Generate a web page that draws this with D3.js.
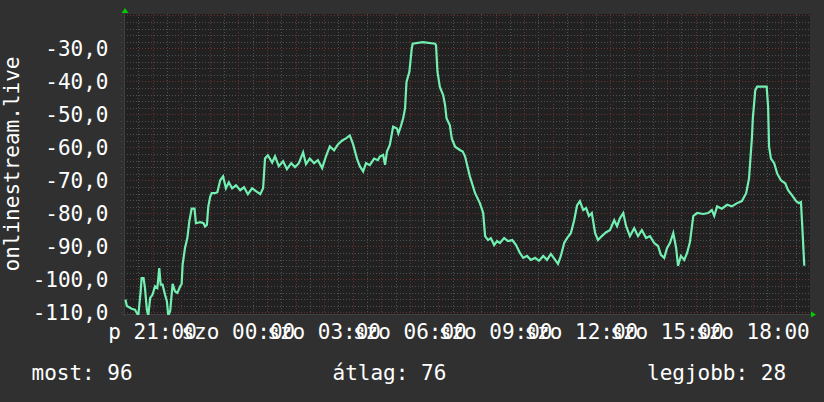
<!DOCTYPE html>
<html><head><meta charset="utf-8">
<script src="https://cdn.jsdelivr.net/npm/d3@7"></script>
<style>
html,body{margin:0;padding:0;background:#303030;}
svg{display:block;}
text{font-family:"DejaVu Sans Mono",monospace;fill:#ffffff;}
</style></head>
<body>
<svg id="chart" width="824" height="402"></svg>
<script>
// ---- data ----
const times = ["20:03","20:06","20:16","20:23","20:30","20:35","20:37","20:41","20:44","20:48","20:51","20:55","21:00","21:05","21:10","21:14","21:17","21:21","21:26","21:30","21:33","21:37","21:42","21:47","21:52","21:58","22:01","22:03","22:08","22:13","22:17","22:22","22:28","22:31","22:40","22:47","22:50","22:54","22:57","23:01","23:04","23:11","23:16","23:22","23:28","23:34","23:40","23:47","23:55",
"+00:04","+00:12","+00:20","+00:29","+00:37","+00:46","+00:52","+00:56","+01:02","+01:11","+01:17","+01:25","+01:34","+01:42","+01:51","+01:59","+02:07","+02:16","+02:22","+02:30","+02:39","+02:47","+02:56","+03:04","+03:12","+03:21","+03:29","+03:38","+03:46","+03:54","+04:01","+04:09","+04:15","+04:22","+04:28","+04:36","+04:45","+04:53","+04:57","+05:04","+05:08","+05:12","+05:18","+05:25","+05:33","+05:36","+05:41","+05:46","+05:50","+05:53","+05:59","+06:04","+06:06","+06:27","+06:53","+06:55","+06:58","+07:03","+07:10","+07:14","+07:17","+07:24","+07:28","+07:35","+07:45","+07:51","+07:56","+08:01","+08:06","+08:17","+08:27","+08:34","+08:38","+08:44","+08:50","+08:57","+09:03","+09:09","+09:18","+09:26","+09:35","+09:43","+09:51","+09:58","+10:06","+10:14","+10:23","+10:31","+10:40","+10:48","+10:56","+11:05","+11:11","+11:17","+11:24","+11:30","+11:38","+11:45","+11:51","+11:57","+12:04","+12:10","+12:16","+12:22","+12:29","+12:35","+12:43","+12:52","+13:00","+13:09","+13:15","+13:21","+13:28","+13:34","+13:42","+13:51","+13:59","+14:07","+14:16","+14:24","+14:33","+14:41","+14:47","+14:54","+15:00","+15:06","+15:13","+15:19","+15:23","+15:29","+15:36","+15:42","+15:48","+15:55","+16:03","+16:16","+16:26","+16:34","+16:39","+16:45","+16:55","+17:06","+17:16","+17:27","+17:37","+17:46","+17:52","+17:58","+18:00","+18:05","+18:09","+18:29","+18:32","+18:34","+18:38","+18:45","+18:51","+18:59","+19:08","+19:14","+19:22","+19:31","+19:37","+19:41","+19:44","+19:48"];
const values = [-106.1,-108.1,-108.9,-109.2,-111,-103.6,-99.6,-99.6,-102.6,-109.2,-111,-105.6,-104.6,-102.1,-102.6,-96.6,-101.6,-101.6,-104.6,-106.6,-111,-109.6,-101.4,-103.6,-104.1,-102.1,-101.4,-95.6,-90.5,-87.5,-82.5,-78.6,-78.6,-83,-82.7,-83,-84,-83.5,-77.9,-74.9,-73.9,-73.9,-73.6,-70.0,-68.8,-72.4,-70.6,-72.4,-71.5,
-73,-72.1,-74.2,-72.4,-73.3,-74.2,-72.4,-63.4,-62.4,-64.6,-62.7,-65.7,-64.2,-66.6,-64.8,-66,-64.8,-61.5,-65.1,-63.4,-64.8,-63.9,-66.3,-62.7,-59.7,-60.9,-59.1,-57.9,-57.3,-56.4,-59.1,-63.4,-65.7,-67.3,-64.8,-65.4,-63.4,-63.9,-62.8,-62.3,-65.3,-61.3,-59.3,-53.7,-54.3,-55.8,-53.7,-51.2,-48.2,-40.2,-37.1,-30.1,-28.6,-28.1,-28.6,-29.1,-37.1,-41.7,-44.2,-47.2,-51.2,-53.3,-57.3,-59.8,-60.8,-61.3,-62.8,-65.8,-68.8,-73.9,-76.9,-79.9,-86.9,-88.1,-87.5,-89.6,-88.4,-89,-87.5,-88.4,-88.1,-89.6,-92,-93.5,-92.9,-94.1,-93.5,-94.4,-92.9,-94.1,-92.3,-94.1,-95.3,-92.9,-89,-87.5,-86,-82.1,-77.6,-76.3,-79,-78.4,-80.8,-79.9,-86,-88.1,-86.9,-85.7,-85.1,-82.1,-83.9,-81.5,-79.9,-83.9,-86.9,-84.5,-86.9,-85.1,-87.5,-86.9,-89,-89.9,-92.6,-93.5,-90.5,-89,-86,-90.5,-95.9,-92.9,-94.1,-92,-88.7,-80.8,-79.9,-80.2,-79.9,-79,-80.8,-77.9,-78.6,-77.4,-77.9,-76.9,-76.3,-73.9,-69.4,-57.3,-51.2,-42.8,-41.6,-41.6,-47.6,-59.7,-63.4,-64.9,-67.9,-70,-70.9,-73,-74.5,-76.3,-76.9,-76.6,-84.5,-95.9];
const yTickValues = [-110,-100,-90,-80,-70,-60,-50,-40,-30];
const yTitle = "onlinestream.live";
const legendLabels = ["most","átlag","legjobb"];
const legendValues = [96,76,28];
const startDay = "2024-05-10"; // péntek
const nextDay = "2024-05-11";  // szombat

// ---- setup ----
const hu = d3.timeFormatLocale({
  dateTime:"%Y. %B %-e., %A %X", date:"%Y. %m. %d.", time:"%H:%M:%S",
  periods:["de.","du."],
  days:["vasárnap","hétfő","kedd","szerda","csütörtök","péntek","szombat"],
  shortDays:["v","h","k","sze","cs","p","szo"],
  months:["január","február","március","április","május","június","július","augusztus","szeptember","október","november","december"],
  shortMonths:["jan","feb","már","ápr","máj","jún","júl","aug","szept","okt","nov","dec"]
});
const parse = d3.timeParse("%Y-%m-%d %H:%M");
const data = times.map((t,i)=>({
  t: t[0]==="+" ? parse(nextDay+" "+t.slice(1)) : parse(startDay+" "+t),
  v: values[i]
}));

const L=124, R=810, T=14, B=314;
const x = d3.scaleTime().domain([parse(startDay+" 20:00"), parse(nextDay+" 20:00")]).range([L, R]);
const y = d3.scaleLinear().domain([-110.5,-19.6]).range([B, T]);

const svg = d3.select("#chart");
svg.append("rect").attr("width",824).attr("height",402).attr("fill","#303030");
svg.append("rect").attr("x",L).attr("y",T).attr("width",R-L).attr("height",B-T).attr("fill","#212121");

const grid = svg.append("g").attr("shape-rendering","crispEdges");
const minorCol = "#505050", majorCol = "#6a2f2f", dash = "1,2";
// horizontal minor
const yMinor = d3.range(-110, -19, 2).filter(v=>v%10!==0 && y(v)>=T);
grid.selectAll(".hmin").data(yMinor).join("line")
  .attr("x1",L-3).attr("x2",R+1).attr("y1",d=>Math.round(y(d))+0.5).attr("y2",d=>Math.round(y(d))+0.5)
  .attr("stroke",minorCol).attr("stroke-dasharray",dash);
// vertical minor (30 min)
const xMinor = d3.timeMinute.every(30).range(x.domain()[0], x.domain()[1]).filter(d=>d.getMinutes()===30);
grid.selectAll(".vmin").data(xMinor).join("line")
  .attr("y1",T).attr("y2",B+2).attr("x1",d=>Math.round(x(d))+0.5).attr("x2",d=>Math.round(x(d))+0.5)
  .attr("stroke",minorCol).attr("stroke-dasharray",dash);
// horizontal major
const yMajor = d3.range(-110, -19, 10);
grid.selectAll(".hmaj").data(yMajor).join("line")
  .attr("x1",L-3).attr("x2",R+1).attr("y1",d=>Math.round(y(d))+0.5).attr("y2",d=>Math.round(y(d))+0.5)
  .attr("stroke",majorCol).attr("stroke-dasharray",dash);
// vertical major (hourly)
const xMajor = d3.timeHour.every(1).range(d3.timeHour.offset(x.domain()[0],1), x.domain()[1]);
grid.selectAll(".vmaj").data(xMajor).join("line")
  .attr("y1",T).attr("y2",B+3).attr("x1",d=>Math.round(x(d))+0.5).attr("x2",d=>Math.round(x(d))+0.5)
  .attr("stroke",majorCol).attr("stroke-dasharray",dash);

// axes lines
grid.append("line").attr("x1",L-2).attr("x2",R+2).attr("y1",B+0.5).attr("y2",B+0.5).attr("stroke","#404040");
grid.append("line").attr("x1",L+0.5).attr("x2",L+0.5).attr("y1",T-2).attr("y2",B+2).attr("stroke","#404040");

// arrows
svg.append("path").attr("d",`M${L-2.5},${T-1}L${L+1},${T-6}L${L+4.5},${T-1}Z`).attr("fill","#00cc00");
svg.append("path").attr("d",`M${R+1},${B-2.5}L${R+6},${B+0.5}L${R+1},${B+3.5}Z`).attr("fill","#00cc00");

// line
svg.append("clipPath").attr("id","clip").append("rect").attr("x",L).attr("y",T).attr("width",R-L).attr("height",B-T+1);
const line = d3.line().x(d=>x(d.t)).y(d=>y(d.v));
svg.append("path").datum(data).attr("clip-path","url(#clip)")
  .attr("d",line).attr("fill","none").attr("stroke","#74efb2").attr("stroke-width",2.2).attr("stroke-linejoin","miter");

// y tick labels
const fmtY = v => d3.format(".1f")(v).replace("−","-").replace(".",",");
svg.append("g").selectAll("text").data(yTickValues).join("text")
  .attr("x",108.5).attr("y",d=>y(d)+8).attr("text-anchor","end")
  .attr("font-size",21).text(fmtY);

// x tick labels
const fmtX = hu.format("%a %H:%M");
const xTicks = d3.timeHour.every(3).range(x.domain()[0], x.domain()[1]);
svg.append("g").selectAll("text").data(xTicks).join("text")
  .attr("x",d=>x(d)).attr("y",338.5).attr("text-anchor","middle")
  .attr("font-size",21).text(fmtX);

// y title
svg.append("text").attr("transform",`translate(19,${(T+B)/2}) rotate(-90)`)
  .attr("text-anchor","middle").attr("font-size",21).text(yTitle);

// legend
const legendX = [31.5, 332.5, 647];
svg.append("g").selectAll("text").data(legendLabels).join("text")
  .attr("x",(d,i)=>legendX[i]).attr("y",380).attr("font-size",21)
  .text((d,i)=>`${d}: ${legendValues[i]}`);
</script>
</body></html>
